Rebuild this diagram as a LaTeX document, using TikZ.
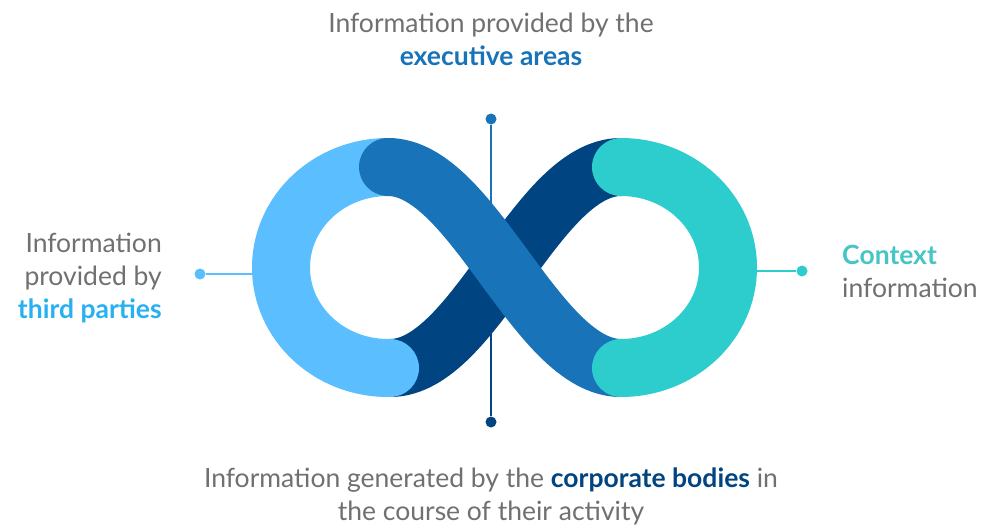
\documentclass[tikz,border=0pt]{standalone}
\usepackage{fontspec}
\setmainfont{Lato}
\usepackage{xcolor}
\usetikzlibrary{positioning, calc}
\definecolor{navy}{HTML}{004481}
\definecolor{midblue}{HTML}{1973B8}
\definecolor{skyblue}{HTML}{5BBEFF}
\definecolor{aqua}{HTML}{2DCCCD}
\definecolor{txtgray}{HTML}{707070}
\definecolor{skytext}{HTML}{28B0F0}
\definecolor{aquatext}{HTML}{45C5C5}

\begin{document}
\begin{tikzpicture}[x=1pt, y=-1pt, every node/.style={font=\fontsize{26.5}{33}\selectfont, text=txtgray}]
      \tikzstyle{band}=[line width=58pt]
      \tikzstyle{pin}=[line width=2.5pt]
      \tikzstyle{dot}=[circle, inner sep=0pt, minimum size=11pt]
      \useasboundingbox (0,0) rectangle (983,525);
      % pins behind the loop
      \coordinate (mid) at (491,268);
      \coordinate (lend) at (258,274);
      \coordinate (rend) at (752,271);
      \node[dot, fill=midblue] (ptop) at (491,119) {};
      \node[dot, fill=navy] (pbot) at (491,422) {};
      \node[dot, fill=skyblue] (pleft) at (200,274) {};
      \node[dot, fill=aqua] (pright) at (802,271) {};
      \draw[pin, midblue] (ptop) -- (mid);
      \draw[pin, navy] (pbot) -- (mid);
      \draw[pin, skyblue] (pleft) -- (lend);
      \draw[pin, aqua] (pright) -- (rend);
      % infinity
      \draw[band, navy] (390,368) .. controls (475,368) and (536,167) .. (621,167);
      \draw[band, skyblue] (388,167) arc[start angle=270, end angle=90, x radius=107, y radius=100.5];
      \fill[skyblue] (390,368) circle[radius=29];
      \draw[band, midblue, line cap=round] (388,167) .. controls (473,167) and (536,368) .. (621,368);
      \draw[band, aqua, line cap=round] (621,167) arc[start angle=-90, end angle=90, x radius=107, y radius=100.5];
      % labels
      \node[align=center, above=44pt of ptop] (exec) {Information provided by the\\{\bfseries\color{midblue}executive areas}};
      \node[align=center, below=37pt of pbot] (corp) {Information generated by the {\bfseries\color{navy}corporate bodies} in\\the course of their activity};
      \node[align=right, left=29pt of pleft, yshift=-4pt] (third) {Information\\provided by\\{\bfseries\color{skytext}third parties}};
      \node[align=left, right=31pt of pright] (ctx) {{\bfseries\color{aquatext}Context}\\information};
    \end{tikzpicture}
\end{document}
